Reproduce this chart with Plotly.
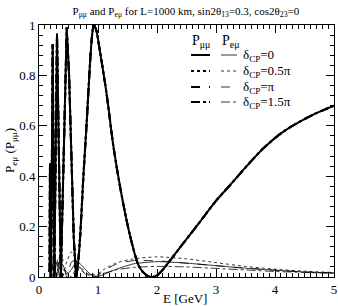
import plotly.graph_objects as go

# ---- data ----
E_mumu = [0.18, 0.186, 0.205, 0.232, 0.26, 0.305, 0.37, 0.47, 0.51, 0.55, 0.59, 0.63,
          0.66, 0.70, 0.75, 0.81, 0.865, 0.90, 0.93, 0.97, 1.03, 1.15, 1.26, 1.40,
          1.54, 1.68, 1.76, 1.85, 1.93, 2.02, 2.12, 2.22, 2.45, 2.73, 3.01, 3.24,
          3.52, 3.80, 4.10, 4.37, 4.70, 5.0]
P_mumu = [0.02, 0.45, 0.0, 0.925, 0.0, 0.965, 0.0, 0.99, 0.80, 0.45, 0.15, 0.0,
          0.05, 0.17, 0.39, 0.62, 0.85, 0.96, 1.0, 0.98, 0.90, 0.72, 0.52, 0.325,
          0.167, 0.05, 0.02, 0.003, 0.0, 0.01, 0.035, 0.065, 0.135, 0.22, 0.305, 0.365,
          0.44, 0.51, 0.57, 0.61, 0.65, 0.68]

E_emu = [0.18, 0.22, 0.26, 0.30, 0.35, 0.40, 0.47, 0.55, 0.62, 0.68, 0.75, 0.85,
         0.95, 1.1, 1.3, 1.6, 2.0, 2.5, 3.0, 3.5, 4.0, 4.5, 5.0]
P_emu_0 = [0.0, 0.05, 0.01, 0.06, 0.0, 0.05, 0.01, 0.03, 0.055, 0.055, 0.04, 0.015,
           0.0, 0.01, 0.03, 0.052, 0.061, 0.055, 0.045, 0.035, 0.027, 0.02, 0.016]
P_emu_05pi = [0.02, 0.0, 0.07, 0.01, 0.08, 0.0, 0.06, 0.10, 0.07, 0.04, 0.02, 0.005,
              0.005, 0.03, 0.055, 0.072, 0.08, 0.072, 0.057, 0.042, 0.031, 0.023, 0.018]
P_emu_pi = [0.0, 0.06, 0.0, 0.08, 0.02, 0.07, 0.0, 0.06, 0.065, 0.045, 0.02, 0.0,
            0.0, 0.025, 0.05, 0.065, 0.064, 0.055, 0.045, 0.035, 0.027, 0.02, 0.016]
P_emu_15pi = [0.01, 0.03, 0.04, 0.0, 0.05, 0.03, 0.02, 0.0, 0.03, 0.04, 0.03, 0.01,
              0.01, 0.015, 0.028, 0.038, 0.042, 0.04, 0.034, 0.028, 0.022, 0.018, 0.015]

delta_labels = ["δ<sub>CP</sub>=0", "δ<sub>CP</sub>=0.5π", "δ<sub>CP</sub>=π", "δ<sub>CP</sub>=1.5π"]
dashes = ["solid", "dot", "dash", "dashdot"]
x_ticks = [0, 1, 2, 3, 4, 5]
y_ticks = [0, 0.2, 0.4, 0.6, 0.8, 1]
y_tick_text = ["0", "0.2", "0.4", "0.6", "0.8", "1"]

FONT = "Liberation Serif"
L, R, T, B = 39, 4, 25, 29
W, H = 338, 306
PW, PH = W - L - R, H - T - B

fig = go.Figure()
emu_sets = [P_emu_0, P_emu_05pi, P_emu_pi, P_emu_15pi]
for d, pe in zip(dashes, emu_sets):
    fig.add_trace(go.Scatter(x=E_emu, y=pe, mode="lines",
                             line=dict(color="black", width=0.8, dash=d, shape="spline", smoothing=0.6),
                             showlegend=False, hoverinfo="skip"))

# split index: sharp low-energy oscillations drawn straight, smooth part as spline
k = E_mumu.index(0.63)
for d in dashes:
    fig.add_trace(go.Scatter(x=E_mumu[:k + 1], y=P_mumu[:k + 1], mode="lines",
                             line=dict(color="black", width=2.0, dash=d),
                             showlegend=False, hoverinfo="skip"))
    fig.add_trace(go.Scatter(x=E_mumu[k:], y=P_mumu[k:], mode="lines",
                             line=dict(color="black", width=2.0, dash=d, shape="spline", smoothing=0.8),
                             showlegend=False, hoverinfo="skip"))

# ---- hand-made legend (paper coordinates) ----
def px2paper(px, py):
    return (px - L) / float(PW), (H - B - py) / float(PH)

row_y = [55, 71, 87, 102]
for i, (d, lab) in enumerate(zip(dashes, delta_labels)):
    x0, y0 = px2paper(191, row_y[i])
    x1, _ = px2paper(210, row_y[i])
    fig.add_shape(type="line", xref="paper", yref="paper", x0=x0, x1=x1, y0=y0, y1=y0,
                  line=dict(color="black", width=2.0, dash=d))
    x0, _ = px2paper(221, row_y[i])
    x1, _ = px2paper(237, row_y[i])
    fig.add_shape(type="line", xref="paper", yref="paper", x0=x0, x1=x1, y0=y0, y1=y0,
                  line=dict(color="black", width=0.8, dash=d))
    tx, _ = px2paper(241, row_y[i])
    fig.add_annotation(xref="paper", yref="paper", x=tx, y=y0, text=lab, showarrow=False,
                       xanchor="left", yanchor="middle", font=dict(family=FONT, size=13, color="black"))

hx, hy = px2paper(190, 41)
fig.add_annotation(xref="paper", yref="paper", x=hx, y=hy, text="P<sub>μμ</sub>", showarrow=False,
                   xanchor="left", yanchor="middle", font=dict(family=FONT, size=14, color="black"))
hx, hy = px2paper(220, 41)
fig.add_annotation(xref="paper", yref="paper", x=hx, y=hy, text="P<sub>eμ</sub>", showarrow=False,
                   xanchor="left", yanchor="middle", font=dict(family=FONT, size=14, color="black"))

# axis titles as annotations
ax, ay = px2paper(185, 298)
fig.add_annotation(xref="paper", yref="paper", x=ax, y=ay, text="E [GeV]", showarrow=False,
                   xanchor="center", yanchor="middle", font=dict(family=FONT, size=13, color="black"))
ax, ay = px2paper(10, 151)
fig.add_annotation(xref="paper", yref="paper", x=ax, y=ay, text="P<sub>eμ</sub> (P<sub>μμ</sub>)",
                   showarrow=False, textangle=-90, xanchor="center", yanchor="middle",
                   font=dict(family=FONT, size=13, color="black"))

axis_common = dict(showline=True, linecolor="black", linewidth=1, mirror="allticks",
                   ticks="inside", ticklen=8, tickwidth=1, tickcolor="black",
                   showgrid=False, zeroline=False, automargin=False,
                   tickfont=dict(family=FONT, size=13, color="black"))

fig.update_xaxes(range=[0, 5], tickvals=x_ticks, ticktext=[str(v) for v in x_ticks],
                 minor=dict(dtick=0.1, ticklen=4, ticks="inside", tickcolor="black", showgrid=False),
                 **axis_common)
fig.update_yaxes(range=[0, 1], tickvals=y_ticks, ticktext=y_tick_text,
                 minor=dict(dtick=0.04, ticklen=4, ticks="inside", tickcolor="black", showgrid=False),
                 **axis_common)

fig.update_layout(
    width=W, height=H,
    margin=dict(l=L, r=R, t=T, b=B),
    paper_bgcolor="white", plot_bgcolor="white",
    title=dict(text="P<sub>μμ</sub> and P<sub>eμ</sub> for L=1000 km, sin2θ<sub>13</sub>=0.3, cos2θ<sub>23</sub>=0",
               x=0.55, xanchor="center", y=0.965, yanchor="middle",
               font=dict(family=FONT, size=11, color="black")),
    showlegend=False,
)

fig.write_html("out.html", config={"displayModeBar": False},
               post_script="document.body.style.margin='0px';document.body.style.overflow='hidden';")
